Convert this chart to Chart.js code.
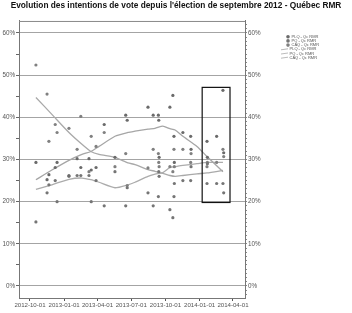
<!DOCTYPE html>
<html>
<head>
<meta charset="utf-8">
<script src="https://cdn.jsdelivr.net/npm/chart.js@4.4.0/dist/chart.umd.min.js"></script>
<style>
    html, body { margin: 0; padding: 0; background: #fff; }
    #wrap { width: 352px; height: 313px; }
</style>
</head>
<body>
<div id="wrap"><canvas id="chart"></canvas></div>
<script>
// Polls (one point per party per poll)
const pollDates = ['2012-10-17', '2012-11-16', '2012-11-21', '2012-12-08', '2012-12-13', '2013-01-14',
    '2013-02-05', '2013-02-15', '2013-03-09', '2013-03-15', '2013-03-28', '2013-04-19', '2013-05-18',
    '2013-06-16', '2013-06-20', '2013-08-15', '2013-08-29', '2013-09-12', '2013-09-13', '2013-09-14',
    '2013-10-13', '2013-10-21', '2013-10-24', '2013-10-25', '2013-11-17', '2013-12-08', '2013-12-09',
    '2014-01-21', '2014-01-22', '2014-02-16', '2014-03-05', '2014-03-07'];
const plqPolls = [29.3, 25.2, 26.4, 28.1, 29.3, 26.2, 30.2, 28.1, 30.2, 27.5, 28.1, 38.3, 30.5,
    40.5, 39.3, 42.4, 40.5, 40.5, 39.3, 30.5, 42.4, 45.2, 35.5, 29.3, 36.4, 35.5, 32.4,
    34.3, 30.5, 35.5, 46.4, 31.6];
const pqPolls = [15.2, 22.1, 24.0, 25.0, 20.0, 26.0, 26.2, 26.2, 26.2, 20.0, 25.0, 19.0, 27.1,
    19.0, 23.3, 22.1, 19.0, 21.2, 27.1, 26.0, 18.1, 16.2, 21.2, 24.3, 25.0, 25.0, 28.3,
    24.3, 29.0, 24.3, 24.3, 22.1];
const caqPolls = [52.4, 45.5, 34.3, 38.3, 36.4, 37.4, 32.4, 40.2, 27.1, 35.5, 33.1, 36.4, 28.3,
    31.4, 23.8, 28.0, 32.4, 31.4, 29.3, 28.3, 28.3, 27.1, 32.4, 28.3, 32.4, 29.3, 31.4,
    28.3, 29.3, 29.3, 32.4, 30.7];

// Smoothed trends
const trendDates = ['2012-10-17', '2012-11-29', '2013-01-14', '2013-02-18', '2013-03-14', '2013-04-05',
    '2013-05-18', '2013-06-22', '2013-07-11', '2013-08-15', '2013-09-03', '2013-09-24', '2013-10-13',
    '2013-10-27', '2013-11-17', '2013-12-25', '2014-01-21', '2014-03-05'];
const plqTrend = [25.2, 27.5, 29.8, 31.2, 31.9, 33.1, 35.5, 36.4, 36.7, 37.2, 37.4, 37.9, 37.3, 37.0, 35.5, 33.1, 30.7, 27.1];
const pqTrend = [22.9, 24.0, 25.3, 25.6, 25.2, 24.6, 23.3, 24.0, 24.6, 26.0, 26.5, 26.9, 28.1, 28.3, 28.6, 29.0, 29.3, 29.3];
const caqTrend = [44.7, 40.7, 36.4, 33.6, 31.9, 31.2, 30.5, 29.2, 28.8, 27.6, 27.2, 26.7, 26.2, 26.0, 26.2, 26.6, 26.8, 27.4];

const seriesNames = ['PLQ - Qc RMR', 'PQ - Qc RMR', 'CAQ - Qc RMR'];
const xTickLabels = ['2012-10-01', '2013-01-01', '2013-04-01', '2013-07-01', '2013-10-01', '2014-01-01', '2014-04-01'];
const yTickValues = [0, 10, 20, 30, 40, 50, 60];

// Highlighted period
const boxDates = ['2014-01-08', '2014-03-24'];
const boxValues = [19.8, 47.1];

const origin = Date.UTC(2012, 9, 1);
function toDay(s) {
    const [y, m, d] = s.split('-').map(Number);
    return (Date.UTC(y, m - 1, d) - origin) / 864e5;
}
function dayLabel(v) {
    const i = xTickLabels.findIndex(l => Math.abs(toDay(l) - v) < 0.5);
    return i >= 0 ? xTickLabels[i] : '';
}
const pts = (dates, vals) => dates.map((d, i) => ({ x: toDay(d), y: vals[i] }));

const FONT = 'Liberation Sans, Arial, sans-serif';
const pointColors = ['#6a6a6a', '#757575', '#808080'];
const lineColors = ['#a6a6a6', '#acacac', '#a9a9a9'];

const datasets = [
    ...[plqPolls, pqPolls, caqPolls].map((vals, i) => ({
        label: seriesNames[i],
        data: pts(pollDates, vals),
        backgroundColor: pointColors[i],
        borderWidth: 0,
        pointRadius: 1.6
    })),
    ...[plqTrend, pqTrend, caqTrend].map((vals, i) => ({
        label: seriesNames[i],
        data: pts(trendDates, vals),
        showLine: true,
        borderColor: lineColors[i],
        borderWidth: 1.3,
        pointRadius: 0,
        tension: 0.2
    }))
];

// Frame, highlight box and legend
const extras = {
    id: 'extras',
    afterDatasetsDraw(chart) {
        const { ctx, chartArea: a, scales: { x, y } } = chart;
        ctx.save();
        ctx.strokeStyle = '#888';
        ctx.lineWidth = 1;
        ctx.beginPath();
        ctx.moveTo(a.left, a.top + 0.5);
        ctx.lineTo(a.right, a.top + 0.5);
        ctx.stroke();

        const x1 = x.getPixelForValue(toDay(boxDates[0]));
        const x2 = x.getPixelForValue(toDay(boxDates[1]));
        const y1 = y.getPixelForValue(boxValues[1]);
        const y2 = y.getPixelForValue(boxValues[0]);
        ctx.strokeStyle = '#111';
        ctx.lineWidth = 1.2;
        ctx.strokeRect(x1, y1, x2 - x1, y2 - y1);

        ctx.font = '4px ' + FONT;
        ctx.textBaseline = 'middle';
        chart.data.datasets.forEach((ds, i) => {
            const ly = 36.7 + i * 4.2;
            if (ds.showLine) {
                ctx.strokeStyle = ds.borderColor;
                ctx.lineWidth = 0.8;
                ctx.beginPath();
                ctx.moveTo(281, ly + 0.5);
                ctx.lineTo(288, ly - 0.5);
                ctx.stroke();
                ctx.fillStyle = '#555';
                ctx.fillText(ds.label, 289.5, ly);
            } else {
                ctx.fillStyle = ds.backgroundColor;
                ctx.beginPath();
                ctx.arc(288, ly, 1.8, 0, Math.PI * 2);
                ctx.fill();
                ctx.fillStyle = '#555';
                ctx.fillText(ds.label, 291.5, ly);
            }
        });
        ctx.restore();
    }
};

new Chart(document.getElementById('chart').getContext('2d'), {
    type: 'scatter',
    data: { datasets },
    options: {
        responsive: true,
        maintainAspectRatio: false,
        animation: false,
        layout: { padding: 0 },
        scales: {
            x: {
                type: 'linear',
                min: -29.6,
                max: 579.4,
                afterBuildTicks: s => { s.ticks = xTickLabels.map(l => ({ value: toDay(l) })); },
                afterFit: s => { s.height = 15; },
                ticks: {
                    callback: v => dayLabel(v),
                    autoSkip: false,
                    maxRotation: 0,
                    padding: 1,
                    color: '#555',
                    font: { family: FONT, size: 6.1 }
                },
                grid: { drawOnChartArea: false, drawTicks: true, tickLength: 3, tickColor: '#555' },
                border: { color: '#777' }
            },
            y: {
                position: 'left',
                min: -2.85,
                max: 62.85,
                afterBuildTicks: s => {
                    s.ticks = [];
                    for (let v = 0; v <= 60; v += 5) s.ticks.push({ value: v });
                },
                afterFit: s => { s.width = 19; },
                ticks: {
                    callback: v => yTickValues.includes(v) ? v + '%' : '',
                    autoSkip: false,
                    padding: 1,
                    color: '#555',
                    font: { family: FONT, size: 6.3 }
                },
                grid: {
                    color: c => c.tick && yTickValues.includes(c.tick.value) ? '#a4a4a4' : 'rgba(0,0,0,0)',
                    borderDash: [5, 2, 2, 2],
                    lineWidth: 1,
                    tickLength: 3,
                    tickColor: '#666',
                    tickBorderDash: []
                },
                border: { color: '#777' }
            },
            y2: {
                position: 'right',
                min: -2.85,
                max: 62.85,
                afterBuildTicks: s => {
                    s.ticks = [];
                    for (let v = -2; v <= 62; v += 1) s.ticks.push({ value: v });
                },
                afterFit: s => { s.width = 107; },
                ticks: {
                    callback: v => yTickValues.includes(v) ? v + '%' : '',
                    autoSkip: false,
                    padding: 1,
                    color: '#555',
                    font: { family: FONT, size: 6.3 }
                },
                grid: { drawOnChartArea: false, drawTicks: true, tickLength: 2, tickColor: '#888' },
                border: { color: '#777' }
            }
        },
        plugins: {
            legend: { display: false },
            tooltip: { enabled: false },
            title: {
                display: true,
                text: "Evolution des intentions de vote depuis l'élection de septembre 2012 - Québec RMR",
                color: '#111',
                font: { family: FONT, size: 8.3, weight: 'bold', lineHeight: 1.2 },
                padding: { top: 0.5, bottom: 10.5 }
            }
        }
    },
    plugins: [extras]
});
</script>
</body>
</html>
